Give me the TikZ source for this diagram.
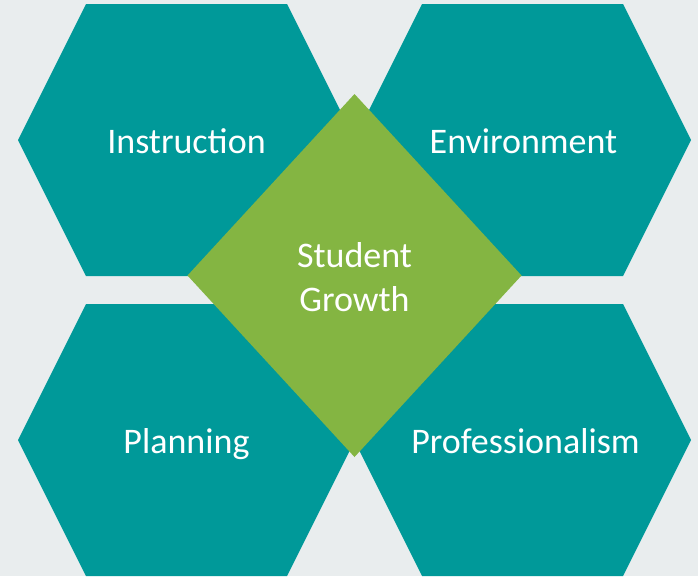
\documentclass[tikz,border=0pt]{standalone}
\usepackage{fontspec}
\setmainfont{Carlito}
\definecolor{tealish}{HTML}{009999}
\definecolor{greenish}{HTML}{84B542}
\definecolor{greyish}{HTML}{E9EDEE}

\begin{document}
\begin{tikzpicture}[
   x=0.75pt, y=-0.75pt,
   hexa/.style={fill=tealish},
   diam/.style={fill=greenish},
   every node/.append style={text=white, inner sep=0pt, align=center,
     font=\fontsize{27}{33}\selectfont}
]
\fill[greyish] (0,0) rectangle (698,576);
\useasboundingbox (0,0) rectangle (698,576);

% the four hexagons
\foreach \cx/\cy/\dx/\name/\txt in {186.5/140/0/instr/Instruction,
    522.5/140/1/env/Environment, 186.5/440/0/plan/Planning,
    522.5/440/3/prof/Professionalism}{
  \fill[hexa] (\cx-168.5,\cy) -- ++(68,-136) -- ++(201,0) -- ++(68,136)
    -- ++(-68,136) -- ++(-201,0) -- cycle;
  \node[anchor=base] (\name) at (\cx+\dx,\cy+13) {\txt};
}

% the diamond in the middle
\fill[diam] (354.5,94) -- (521.5,275.5) -- (354.5,457) -- (187.5,275.5) -- cycle;
\node (growth) at (354.5,277.5) {Student\\Growth};
\end{tikzpicture}
\end{document}
